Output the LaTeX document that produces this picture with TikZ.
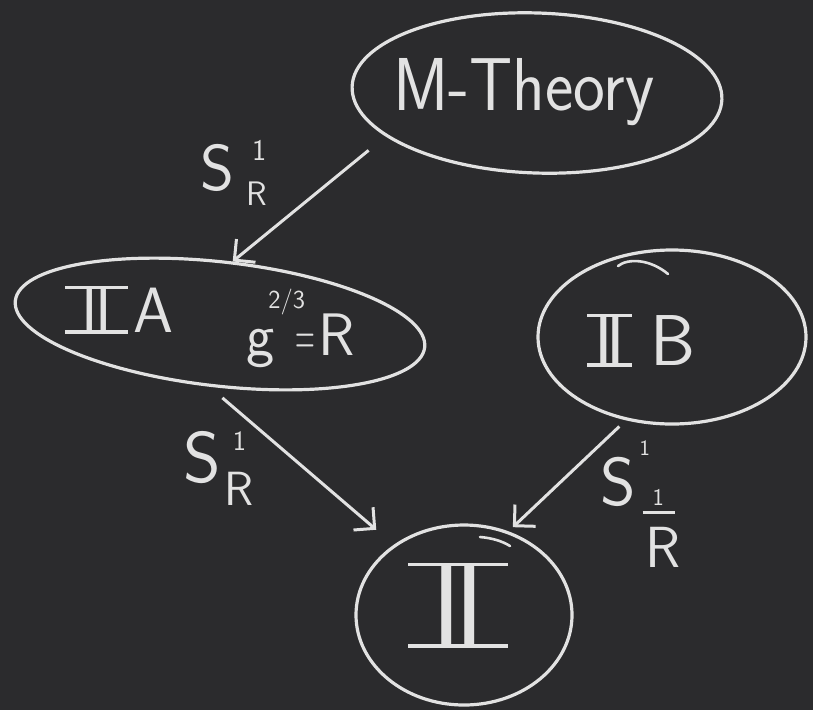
\documentclass[tikz,border=0pt]{standalone}
\usetikzlibrary{shapes.geometric,arrows.meta}
\definecolor{board}{RGB}{43,43,45}
\definecolor{chalk}{RGB}{226,226,226}
% roman numeral two drawn with bars: #1 bar width, #2 top bar height, #3 kern between the two I
\newcommand\romtwo[3]{\makebox[#1]{\rlap{\rule[-1.75pt]{#1}{3.5pt}}\rlap{\raisebox{#2}{\rule{#1}{3.5pt}}}\hfill I\kern#3 I\hfill}}
\begin{document}
\begin{tikzpicture}[x=1pt,y=-1pt,
  oval/.style={draw=chalk, ellipse, inner sep=0pt, line width=3.2pt},
  arr/.style={draw=chalk, line width=3pt, -{Straight Barb[length=15pt,width=30pt,line width=3pt]}},
  word/.style={text=chalk, inner sep=0pt},
  stroke/.style={draw=chalk, line width=2.6pt, line cap=round}]
\fill[board] (0,0) rectangle (813,710);
\useasboundingbox (0,0) rectangle (813,710);

% ellipses
\node[oval, minimum width=370pt, minimum height=160pt, rotate=-2] (m) at (537,93) {};
\node[oval, minimum width=412pt, minimum height=124pt, rotate=-6.5] (iia) at (220,324) {};
\node[oval, minimum width=268pt, minimum height=174pt] (iib) at (672,337) {};
\node[oval, minimum width=216pt, minimum height=180pt] (ii) at (464,615) {};

% extra chalk strokes
\draw[stroke] (618,266) .. controls (628,258) and (650,259) .. (668,274);
\draw[stroke] (480,537) .. controls (492,538) and (502,541) .. (510,546);

% texts
\node[word, anchor=base west, xscale=0.9, font=\fontsize{75}{75}\selectfont\sffamily] (mt) at (393,110) {M-Theory};
\node[word, anchor=base west, font=\fontsize{64}{64}\selectfont\sffamily] (iiat) at (65,332) {\romtwo{63pt}{43pt}{-2pt}\kern5pt A};
\node[word, anchor=base west, font=\fontsize{60}{60}\selectfont\sffamily] (geq) at (246,355) {g\rlap{\kern-0.1em\raisebox{0.78em}{\fontsize{26}{26}\selectfont 2/3}}\kern0.35em\scalebox{0.45}[1]{=}\kern0.05em R};
\node[word, anchor=base west, font=\fontsize{72}{72}\selectfont\sffamily] (iibt) at (587,365) {\romtwo{45pt}{48pt}{-6pt}\kern18pt B};
\node[word, anchor=base west, font=\fontsize{118}{118}\selectfont\sffamily] (iit) at (408,646) {\romtwo{100pt}{80pt}{-8pt}};

% arrows
\draw[arr, shorten <=22pt] (m.198) -- (iia.85);
\draw[arr, shorten <=17pt, shorten >=23pt] (iia.-93) -- (ii.135);
\draw[arr, shorten <=9pt, shorten >=6pt] (iib.241) -- (ii.62);

% labels
\node[word, anchor=base west, font=\fontsize{65}{65}\selectfont\sffamily] (l1) at (200,190)
  {S\kern12pt\rlap{\kern6pt\raisebox{30pt}{\fontsize{30}{30}\selectfont 1}}\raisebox{-15pt}{\fontsize{34}{34}\selectfont R}};
\node[word, anchor=base west, font=\fontsize{72}{72}\selectfont\sffamily] (l2) at (183,482)
  {S\kern4pt\rlap{\kern8pt\raisebox{32pt}{\fontsize{28}{28}\selectfont 1}}\raisebox{-23pt}{\fontsize{48}{48}\selectfont R}};
\node[word, anchor=base west, font=\fontsize{68}{68}\selectfont\sffamily] (l3) at (600,505)
  {S\rlap{\kern4pt\raisebox{50pt}{\fontsize{22}{22}\selectfont 1}}\kern7pt\rlap{\rule[-9pt]{32pt}{3pt}}\rlap{\kern10pt\fontsize{24}{24}\selectfont 1}\raisebox{-62pt}{\fontsize{58}{58}\selectfont\kern3pt R}};
\end{tikzpicture}
\end{document}
